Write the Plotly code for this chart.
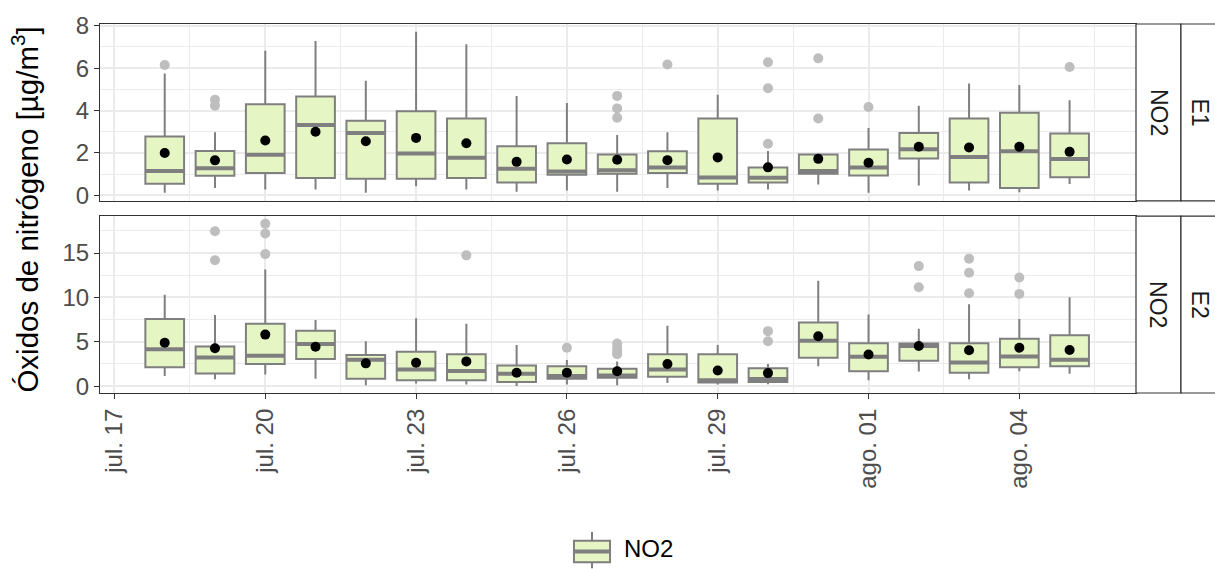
import pandas as pd
import plotly.graph_objects as go
from plotly.subplots import make_subplots

# ---------------- data ----------------
dates = pd.date_range("2023-07-18", "2023-08-05", freq="D")

# Station E1 (NO2)
e1_q1 = [0.55, 0.92, 1.05, 0.82, 0.78, 0.78, 0.82, 0.61, 0.97, 1.02, 1.05, 0.55, 0.61, 1.02, 0.94, 1.74, 0.61, 0.35, 0.85]
e1_med = [1.15, 1.28, 1.91, 3.32, 2.94, 1.97, 1.77, 1.26, 1.12, 1.18, 1.31, 0.84, 0.83, 1.15, 1.31, 2.17, 1.81, 2.08, 1.71]
e1_q3 = [2.78, 2.09, 4.29, 4.66, 3.52, 3.96, 3.62, 2.32, 2.46, 1.93, 2.08, 3.62, 1.31, 1.93, 2.16, 2.94, 3.62, 3.89, 2.92]
e1_lo = [0.12, 0.35, 0.28, 0.28, 0.12, 0.43, 0.28, 0.17, 0.23, 0.17, 0.35, 0.23, 0.28, 0.51, 0.12, 0.46, 0.23, 0.15, 0.54]
e1_hi = [5.74, 2.97, 6.82, 7.28, 5.40, 7.71, 7.12, 4.69, 4.35, 2.85, 2.97, 4.74, 2.09, 1.93, 3.17, 4.23, 5.28, 5.20, 4.48]
e1_mean = [2.00, 1.65, 2.59, 3.00, 2.55, 2.71, 2.46, 1.58, 1.69, 1.68, 1.66, 1.79, 1.32, 1.72, 1.54, 2.29, 2.26, 2.29, 2.05]
e1_out_day = ["2023-07-18", "2023-07-19", "2023-07-19", "2023-07-27", "2023-07-27", "2023-07-27",
              "2023-07-28", "2023-07-30", "2023-07-30", "2023-07-30", "2023-07-31", "2023-07-31",
              "2023-08-01", "2023-08-05"]
e1_out_val = [6.15, 4.51, 4.23, 4.69, 4.10, 3.66, 6.17, 6.28, 5.05, 2.43, 6.46, 3.62, 4.17, 6.05]

# Station E2 (NO2)
e2_q1 = [2.13, 1.43, 2.50, 3.05, 0.85, 0.66, 0.66, 0.48, 0.85, 0.95, 1.05, 0.41, 0.48, 3.20, 1.69, 2.87, 1.51, 2.13, 2.24]
e2_med = [4.16, 3.23, 3.42, 4.75, 2.98, 1.87, 1.72, 1.40, 1.14, 1.20, 1.87, 0.66, 0.80, 5.11, 3.31, 4.52, 2.68, 3.34, 2.98]
e2_q3 = [7.57, 4.48, 7.02, 6.25, 3.52, 3.89, 3.60, 2.32, 2.24, 1.95, 3.60, 3.60, 2.02, 7.17, 4.85, 4.82, 4.85, 5.33, 5.73]
e2_lo = [1.14, 0.77, 1.32, 0.85, 0.11, 0.30, 0.19, 0.03, 0.19, 0.11, 0.37, 0.19, 0.22, 2.24, 0.66, 1.65, 0.77, 1.69, 1.40]
e2_hi = [10.29, 8.02, 13.15, 7.46, 5.07, 7.64, 7.02, 4.63, 2.94, 2.79, 6.80, 4.63, 2.50, 11.87, 8.08, 6.47, 9.23, 7.57, 10.03]
e2_mean = [4.89, 4.27, 5.81, 4.44, 2.57, 2.63, 2.79, 1.51, 1.51, 1.69, 2.50, 1.76, 1.47, 5.62, 3.56, 4.52, 4.05, 4.33, 4.08]
e2_out_day = ["2023-07-19", "2023-07-19", "2023-07-20", "2023-07-20", "2023-07-20", "2023-07-24",
              "2023-07-26", "2023-07-27", "2023-07-27", "2023-07-27", "2023-07-27",
              "2023-07-30", "2023-07-30", "2023-08-02", "2023-08-02",
              "2023-08-03", "2023-08-03", "2023-08-03", "2023-08-04", "2023-08-04"]
e2_out_val = [17.45, 14.19, 18.30, 17.20, 14.88, 14.74,
              4.33, 4.80, 4.30, 3.90, 3.60,
              6.20, 5.07, 13.53, 11.14,
              14.37, 12.79, 10.47, 12.24, 10.40]

x_tick_dates = ["2023-07-17", "2023-07-20", "2023-07-23", "2023-07-26", "2023-07-29", "2023-08-01", "2023-08-04"]
x_tick_text = ["jul. 17", "jul. 20", "jul. 23", "jul. 26", "jul. 29", "ago. 01", "ago. 04"]
y1_ticks = [0, 2, 4, 6, 8]
y2_ticks = [0, 5, 10, 15]

# ---------------- style ----------------
FONT = "Liberation Sans, Arial, sans-serif"
FILL = "#E5F5C4"
EDGE = "#7F7F7F"
OUT = "#BEBEBE"
GRID = "#EBEBEB"
AX = "#333333"
TXT = "#4D4D4D"
TICK_SIZE = 24
DAY_MS = 86400000
BOX_W = 0.77  # in days

fig = make_subplots(rows=2, cols=1, shared_xaxes=True, vertical_spacing=0.04)

panels = [
    (1, e1_q1, e1_med, e1_q3, e1_lo, e1_hi, e1_mean, e1_out_day, e1_out_val),
    (2, e2_q1, e2_med, e2_q3, e2_lo, e2_hi, e2_mean, e2_out_day, e2_out_val),
]

half = pd.Timedelta(days=BOX_W / 2)
for row, q1, med, q3, lo, hi, mn, od, ov in panels:
    fig.add_trace(go.Box(
        x=dates, q1=q1, median=med, q3=q3, lowerfence=lo, upperfence=hi,
        orientation="v", boxpoints=False, whiskerwidth=0,
        width=BOX_W * DAY_MS, fillcolor=FILL,
        line=dict(color=EDGE, width=2), showlegend=False, hoverinfo="skip",
    ), row=row, col=1)
    # thicker median bar (ggplot fatten)
    mx, my = [], []
    for d, m in zip(dates, med):
        mx += [d - half, d + half, None]
        my += [m, m, None]
    fig.add_trace(go.Scatter(x=mx, y=my, mode="lines",
                             line=dict(color=EDGE, width=4),
                             showlegend=False, hoverinfo="skip"), row=row, col=1)
    fig.add_trace(go.Scatter(x=pd.to_datetime(od), y=ov, mode="markers",
                             marker=dict(color=OUT, size=10),
                             showlegend=False, hoverinfo="skip"), row=row, col=1)
    fig.add_trace(go.Scatter(x=dates, y=mn, mode="markers",
                             marker=dict(color="black", size=10),
                             showlegend=False, hoverinfo="skip"), row=row, col=1)

minor_x = pd.date_range("2023-07-15 12:00", "2023-08-06 12:00", freq="3D")
xrange = [pd.Timestamp("2023-07-17") - pd.Timedelta(hours=6.9),
          pd.Timestamp("2023-08-06") + pd.Timedelta(hours=7.7)]

common_x = dict(
    type="date", range=xrange, tickvals=pd.to_datetime(x_tick_dates), ticktext=x_tick_text,
    showgrid=True, gridcolor=GRID, gridwidth=1.6,
    minor=dict(tickvals=minor_x, showgrid=True, gridcolor=GRID, gridwidth=0.8, ticks=""),
    showline=True, mirror=True, linecolor=AX, linewidth=1.2, zeroline=False,
)
fig.update_xaxes(**common_x)
fig.update_xaxes(row=1, col=1, showticklabels=False, ticks="")
fig.update_xaxes(row=2, col=1, ticks="outside", ticklen=5, tickwidth=1.2, tickcolor=AX,
                 tickangle=-90, tickfont=dict(family=FONT, size=TICK_SIZE, color=TXT))

common_y = dict(
    showgrid=True, gridcolor=GRID, gridwidth=1.6,
    showline=True, mirror=True, linecolor=AX, linewidth=1.2, zeroline=False,
    ticks="outside", ticklen=5, tickwidth=1.2, tickcolor=AX,
    tickfont=dict(family=FONT, size=TICK_SIZE, color=TXT),
)
fig.update_yaxes(**common_y)
fig.update_yaxes(row=1, col=1, range=[-0.26, 8.08], tickvals=y1_ticks,
                 minor=dict(tickvals=[1, 3, 5, 7], showgrid=True, gridcolor=GRID, gridwidth=0.8, ticks=""),
                 domain=[0.5207, 1.0])
fig.update_yaxes(row=2, col=1, range=[-0.77, 19.16], tickvals=y2_ticks,
                 minor=dict(tickvals=[2.5, 7.5, 12.5, 17.5], showgrid=True, gridcolor=GRID, gridwidth=0.8, ticks=""),
                 domain=[0.0, 0.4793])

# facet strips
strip_cols = [(1.0, 1.0434, "NO2", 1.0217), (1.0434, 1.083, None, 1.0618)]
rows_dom = [((0.5207, 1.0), "E1"), ((0.0, 0.4793), "E2")]
for (y0, y1), station in rows_dom:
    for x0, x1, label, xc in strip_cols:
        fig.add_shape(type="rect", xref="paper", yref="paper", x0=x0, x1=x1, y0=y0, y1=y1,
                      fillcolor="white", line=dict(color=AX, width=1.2), layer="above")
        fig.add_annotation(xref="paper", yref="paper", x=xc, y=(y0 + y1) / 2,
                           xanchor="center", yanchor="middle",
                           text=label if label else station, textangle=90, showarrow=False,
                           font=dict(family=FONT, size=23, color="#1A1A1A"))

# y axis title
fig.add_annotation(xref="paper", yref="paper", x=-0.0724, y=0.497,
                   xanchor="center", yanchor="middle",
                   text="Óxidos de nitrógeno [µg/m<sup>3</sup>]", textangle=-90, showarrow=False,
                   font=dict(family=FONT, size=29.5, color="black"))

# legend (drawn like ggplot's key)
lx0, lx1, lxc = 0.4575, 0.4923, 0.4749
ly0, ly1, lym = -0.4589, -0.4005, -0.4297
fig.add_shape(type="line", xref="paper", yref="paper", x0=lxc, x1=lxc, y0=-0.3767, y1=ly1,
              line=dict(color=EDGE, width=2))
fig.add_shape(type="line", xref="paper", yref="paper", x0=lxc, x1=lxc, y0=-0.475, y1=ly0,
              line=dict(color=EDGE, width=2))
fig.add_shape(type="rect", xref="paper", yref="paper", x0=lx0, x1=lx1, y0=ly0, y1=ly1,
              fillcolor=FILL, line=dict(color=EDGE, width=2))
fig.add_shape(type="line", xref="paper", yref="paper", x0=lx0, x1=lx1, y0=lym, y1=lym,
              line=dict(color=EDGE, width=4))
fig.add_annotation(xref="paper", yref="paper", x=0.5039, y=-0.4218,
                   xanchor="left", yanchor="middle",
                   text="NO2", showarrow=False, font=dict(family=FONT, size=24, color="black"))

fig.update_layout(
    width=1215, height=569,
    margin=dict(l=100, r=79, t=16, b=176),
    paper_bgcolor="white", plot_bgcolor="white",
    font=dict(family=FONT, size=22, color=TXT),
    showlegend=False,
)

fig.write_html("out.html")
